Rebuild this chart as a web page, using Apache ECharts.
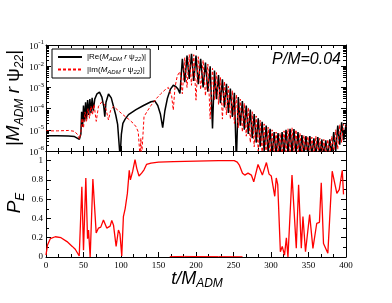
<!DOCTYPE html>
<html><head><meta charset="utf-8">
<script src="https://cdn.jsdelivr.net/npm/echarts@6/dist/echarts.min.js"></script>
<style>html,body{margin:0;padding:0;background:#fff}#c{width:392px;height:303px}</style>
</head><body><div id="c"></div>
<script>
// |Re(M r psi22)| : [t/M, value]
const reSeries = [[0,5.25e-6],[15,5.25e-6],[30,5.1e-6],[38,4.8e-6],[44.5,3.55e-6],[46.5,6.3e-6],[47.5,7.1e-5],[48.8,1.4e-5],[50,1.4e-4],[51.5,2.5e-5],[52.8,2.0e-4],[54,3.2e-5],[55.5,2.5e-4],[57,5.0e-5],[58.5,2.8e-4],[60,6.3e-5],[61.5,3.2e-4],[63,7.9e-5],[65,2.8e-4],[68,5.0e-4],[71.3,6.0e-4],[74.5,3.5e-4],[77,1.26e-4],[78.4,4.2e-5],[80,2.0e-4],[83.3,4.9e-4],[87,3.2e-4],[90,1.26e-4],[93,5.0e-5],[95.5,1.8e-5],[98.8,5e-7],[100.5,6.3e-6],[102.5,2.0e-5],[105.5,3.2e-5],[110,5.2e-5],[120,8.9e-5],[130,1.4e-4],[140,2.1e-4],[145,2.3e-4],[149,1.4e-4],[152.5,5.6e-5],[155.6,1.26e-5],[158.5,7.9e-5],[162,3.2e-4],[166,8.3e-4],[169.7,1.26e-3],[173,1.1e-3],[176,8.3e-4],[178.6,5.2e-4],
[181.8,2.24e-2],[185,1.78e-3],[188,3.16e-2],[191,2.5e-3],[194,3.8e-2],[197,2.0e-3],[200,3.16e-2],[203,1.41e-3],[206.2,2.24e-2],[209.5,1.0e-3],[212.6,1.5e-2],[215.8,6.3e-4],[218.9,1.0e-2],[222,1.17e-5],[224.6,6.3e-3],[227.3,2.8e-4],[230,3.8e-3],[232.6,1.78e-4],[235.2,2.4e-3],[237.9,1.12e-4],[240.6,1.48e-3],[243.2,6.3e-5],[245.8,8.9e-4],[248.5,4.0e-5],[251.2,5.6e-4],[253.8,3.2e-7],[256.4,3.5e-4],[259.1,1.58e-5],[261.8,2.24e-4],[264.4,1.0e-5],[267,1.41e-4],[269.7,6.3e-6],[272.4,8.9e-5],[275,4.0e-6],[277.6,5.6e-5],[280.3,2.5e-6],[283,3.5e-5],[285.6,1.58e-6],[288.2,2.4e-5],[290.9,1.0e-6],[293.6,1.58e-5],[296.2,8e-7],[298.8,1.12e-5],[301.5,6.3e-7],[304.2,7.9e-6],[306.8,6e-7],[309.4,7.1e-6],[312.1,6e-7],[314.8,7.9e-6],[317.4,7e-7],[320,1.0e-5],[322.7,8e-7],[325.4,1.12e-5],[328,8e-7],[330.6,1.07e-5],[333.3,7e-7],[336,7.9e-6],[338.6,6e-7],[341.2,5.6e-6],[343.9,6e-7],[346.6,5.0e-6],[349.2,6e-7],[351.8,5.0e-6],[354.5,6e-7],[357.2,4.0e-6],[359.8,6e-7],[362.4,4.5e-6],[365.1,6e-7],[367.8,3.5e-6],[370.4,6e-7],[373,3.2e-6],[375.7,6e-7],[378.4,3.5e-6],[381,7e-7],[383.6,7.9e-6],[386.3,1.0e-6],[389,1.58e-5],[391.6,2.0e-6],[394.2,2.24e-5],[396.9,3.2e-6],[400,1.8e-5]];

// |Im(M r psi22)| : [t/M, value]
const imSeries = [[0,8.9e-6],[15,8.9e-6],[30,9.3e-6],[38,8.5e-6],[42,6e-6],[44.7,3.6e-6],[46.5,8e-6],[48,3.5e-5],[50,1.2e-5],[52,7e-5],[54,2.5e-5],[56,1.0e-4],[58,3.5e-5],[60,1.3e-4],[62,5e-5],[64,1.6e-4],[67,2.5e-5],[70,1.3e-4],[74.5,2.1e-4],[78,1.6e-4],[80.5,8e-5],[83.3,2.9e-5],[86,8e-5],[90,1.26e-4],[95,8.9e-5],[103,5.0e-5],[110,3.2e-5],[116.5,2.0e-5],[120,1.4e-5],[123,8e-6],[125.4,5e-7],[126.5,4e-6],[127.5,5e-7],[130.7,4.2e-5],[135,7.5e-5],[140,1.41e-4],[147.6,3.1e-4],[153,5.0e-4],[158.6,7.6e-4],[163,1.0e-3],[165.3,1.07e-3],[167.5,4e-4],[169.7,8.5e-5],[172,1.0e-3],[175,3.5e-3],
[178.6,5.6e-3],[181.8,5.0e-4],[185,2.5e-2],[188,1.0e-3],[191,3.5e-2],[194,1.26e-3],[197,3.5e-2],[200,2.5e-4],[203,2.8e-2],[206.2,7.9e-4],[209.5,1.9e-2],[212.6,4.0e-4],[215.8,1.26e-2],[218.9,3.2e-5],[222,7.9e-3],[224.6,2.5e-4],[227.3,5.0e-3],[230,1.58e-4],[232.6,3.0e-3],[235.2,3.2e-5],[237.9,1.9e-3],[240.6,5.0e-5],[243.2,1.12e-3],[245.8,3.2e-5],[248.5,7.1e-4],[251.2,2.0e-5],[253.8,4.5e-4],[256.4,1.26e-5],[259.1,2.8e-4],[261.8,7.9e-6],[264.4,1.78e-4],[267,5.0e-6],[269.7,1.12e-4],[272.4,2.5e-6],[275,7.1e-5],[277.6,1.58e-6],[280.3,4.5e-5],[283,1.0e-6],[285.6,2.8e-5],[288.2,7e-7],[290.9,1.9e-5],[293.6,6e-7],[296.2,1.32e-5],[298.8,6e-7],[301.5,1.0e-5],[304.2,6e-7],[306.8,7.9e-6],[309.4,6e-7],[312.1,7.1e-6],[314.8,6e-7],[317.4,8.9e-6],[320,7e-7],[322.7,1.12e-5],[325.4,8e-7],[328,1.26e-5],[330.6,8e-7],[333.3,1.0e-5],[336,7e-7],[338.6,7.1e-6],[341.2,6e-7],[343.9,5.6e-6],[346.6,6e-7],[349.2,5.0e-6],[351.8,6e-7],[354.5,4.5e-6],[357.2,6e-7],[359.8,5.0e-6],[362.4,6e-7],[365.1,4.0e-6],[367.8,6e-7],[370.4,3.5e-6],[373,6e-7],[375.7,3.5e-6],[378.4,6e-7],[381,5.0e-6],[383.6,8e-7],[386.3,1.0e-5],[389,1.2e-6],[391.6,1.78e-5],[394.2,2.5e-6],[396.9,2.0e-5],[400,1.4e-5]];

// P_E : [t/M, value]
const peSeries = [[0,0.02],[2,0.125],[5.7,0.19],[12.4,0.21],[20,0.2],[28,0.16],[35,0.11],[39,0.08],[44.3,0.01],[47.8,0.73],[50,0.07],[53.1,0.82],[55.4,0.19],[56.7,0.28],[58.9,0.0],[62.5,0.81],[66.9,0.25],[70,0.3],[73,0.31],[76.6,0.385],[81,0.30],[85.5,0.32],[87.7,0.38],[90,0.33],[93.5,0.11],[96.6,0.28],[98.6,0.24],[101,0.01],[103.2,0.42],[105.5,0.5],[108.5,0.66],[111,0.9],[112.5,0.8],[115.6,0.89],[118.7,1.01],[121,0.92],[124,0.84],[127.5,0.87],[130.7,0.905],[134,0.96],[140,0.975],[150,0.985],[170,0.99],[200,0.995],[230,1.0],[251,1.0],[255,0.985],[258,0.95],[262,0.87],[265,0.85],[269.4,0.87],[273.8,0.85],[277,0.78],[282.7,0.96],[288.5,0.85],[293.9,0.98],[297.4,0.86],[300.4,0.84],[305,0.63],[307,0.82],[309,0.75],[312.5,0.055],[315,0.11],[318,0.02],[320.5,0.2],[322.6,0.0],[328,0.85],[333.7,0.09],[336.8,0.75],[340.4,0.09],[342.6,0.42],[346,0.055],[351.5,0.44],[355.9,0.09],[361,0.35],[364.6,0.36],[367,0.77],[370,0.14],[375.8,0.04],[381.6,0.89],[387.8,0.66],[391,0.7],[395,0.9],[396.7,0.65]];

// second, near-zero P curve
const peLowSeries = [[165,0.004],[185,0.006],[200,0.005],[230,0.004],[262,0.003]];

// minor tick positions of the log axis
const logMinorTicks = [2e-6,3e-6,4e-6,5e-6,6e-6,7e-6,8e-6,9e-6,2e-5,3e-5,4e-5,5e-5,6e-5,7e-5,8e-5,9e-5,2e-4,3e-4,4e-4,5e-4,6e-4,7e-4,8e-4,9e-4,2e-3,3e-3,4e-3,5e-3,6e-3,7e-3,8e-3,9e-3,2e-2,3e-2,4e-2,5e-2,6e-2,7e-2,8e-2,9e-2];

const SERIF = 'Liberation Serif';
const SANS = 'Liberation Sans';

const chart = echarts.init(document.getElementById('c'), null, {renderer: 'canvas'});

function xAx(grid, pos, labels) {
  return {
    type: 'value', gridIndex: grid, position: pos, min: 0, max: 400, interval: 50,
    axisLine: {show: true, onZero: false, lineStyle: {color: '#000', width: 1}},
    axisTick: {show: true, inside: true, length: 5, lineStyle: {color: '#000'}},
    minorTick: {show: true, splitNumber: 3, length: 3, lineStyle: {color: '#000'}},
    splitLine: {show: false},
    axisLabel: {show: labels, color: '#000', fontFamily: SERIF, fontSize: 9, margin: 4}
  };
}
function yLog(pos, labels) {
  return {
    type: 'log', gridIndex: 0, position: pos, min: 1e-6, max: 1e-1, logBase: 10,
    axisLine: {show: true, onZero: false, lineStyle: {color: '#000', width: 1}},
    axisTick: {show: true, inside: true, length: 5, lineStyle: {color: '#000'}},
    splitLine: {show: false},
    axisLabel: {
      show: labels, margin: 2,
      formatter: v => '{b|10}{s|' + Math.round(Math.log10(v)) + '}',
      rich: {
        b: {fontFamily: SERIF, fontSize: 9, color: '#000', lineHeight: 12, verticalAlign: 'bottom'},
        s: {fontFamily: SERIF, fontSize: 7, color: '#000', lineHeight: 8, verticalAlign: 'top'}
      }
    }
  };
}
function yLin(pos, labels) {
  return {
    type: 'value', gridIndex: 1, position: pos, min: 0, max: 1.1, interval: 0.2,
    axisLine: {show: true, onZero: false, lineStyle: {color: '#000', width: 1}},
    axisTick: {show: true, inside: true, length: 5, lineStyle: {color: '#000'}},
    minorTick: {show: true, splitNumber: 2, length: 3, lineStyle: {color: '#000'}},
    splitLine: {show: false},
    axisLabel: {
      show: labels, color: '#000', fontFamily: SERIF, fontSize: 9, margin: 3,
      formatter: v => (v > 1.05 ? '' : (Math.abs(v) < 1e-9 ? '0' : (Math.abs(v - 1) < 1e-9 ? '1' : v.toFixed(1))))
    }
  };
}

const subRich = (size, subSize, style) => ({
  m: {fontFamily: SANS, fontSize: size, fontStyle: style, fill: '#000', lineHeight: size + 4, verticalAlign: 'middle'},
  n: {fontFamily: SANS, fontSize: size, fontStyle: 'normal', fill: '#000', lineHeight: size + 4, verticalAlign: 'middle'},
  s: {fontFamily: SANS, fontSize: subSize, fontStyle: style, fill: '#000', lineHeight: subSize, verticalAlign: 'bottom'}
});

const legendRich = {
  t: {fontFamily: SANS, fontSize: 8, color: '#000', lineHeight: 11, verticalAlign: 'middle'},
  s: {fontFamily: SANS, fontSize: 6, fontStyle: 'italic', color: '#000', lineHeight: 6, verticalAlign: 'bottom'},
  i: {fontFamily: SANS, fontSize: 8, fontStyle: 'italic', color: '#000', lineHeight: 11, verticalAlign: 'middle'}
};

const option = {
  animation: false,
  backgroundColor: '#fff',
  grid: [
    {left: 46, top: 45, width: 300, height: 106},
    {left: 46, top: 151, width: 300, height: 106}
  ],
  xAxis: [xAx(0, 'bottom', false), xAx(0, 'top', false), xAx(1, 'bottom', true), xAx(1, 'top', false)],
  yAxis: [yLog('left', true), yLog('right', false), yLin('left', true), yLin('right', false)],
  legend: {
    left: 52, top: 49, orient: 'vertical', itemWidth: 24, itemHeight: 8, itemGap: 3,
    borderColor: '#000', borderWidth: 1, backgroundColor: '#fff', padding: [4, 4, 3, 5],
    data: ['Re', 'Im'],
    itemStyle: {opacity: 0},
    formatter: n => '{t|' + '|' + n + '(}{i|M}{s|ADM}{i| r }{t|ψ}{s|22}{t|)|}',
    textStyle: {rich: legendRich, fontSize: 8, fontFamily: SANS}
  },
  series: [
    {name: 'Re', type: 'line', xAxisIndex: 0, yAxisIndex: 0, data: reSeries, showSymbol: false, symbol: 'none',
      lineStyle: {color: '#000', width: 1.5}, itemStyle: {color: '#000'}, z: 3},
    {name: 'Im', type: 'line', xAxisIndex: 0, yAxisIndex: 0, data: imSeries, showSymbol: false, symbol: 'none',
      lineStyle: {color: '#ff0000', width: 1, type: [3, 2]}, itemStyle: {color: '#ff0000'}, z: 4},
    {type: 'custom', xAxisIndex: 0, yAxisIndex: 0, silent: true, z: 5,
      data: logMinorTicks.map(v => [0, v]),
      renderItem: (params, api) => {
        const p = api.coord([0, api.value(1)]);
        const cs = params.coordSys;
        const y = Math.round(p[1]) + 0.5;
        return {type: 'group', children: [
          {type: 'line', shape: {x1: cs.x, y1: y, x2: cs.x + 3, y2: y}, style: {stroke: '#000', lineWidth: 1}},
          {type: 'line', shape: {x1: cs.x + cs.width - 3, y1: y, x2: cs.x + cs.width, y2: y}, style: {stroke: '#000', lineWidth: 1}}
        ]};
      }},
    {name: 'PE', type: 'line', xAxisIndex: 2, yAxisIndex: 2, data: peSeries, showSymbol: false, symbol: 'none',
      lineStyle: {color: '#ff0000', width: 1.3}, itemStyle: {color: '#ff0000'}},
    {name: 'PElow', type: 'line', xAxisIndex: 2, yAxisIndex: 2, data: peLowSeries, showSymbol: false, symbol: 'none',
      lineStyle: {color: '#ff0000', width: 1}, itemStyle: {color: '#ff0000'}}
  ],
  graphic: [
    {type: 'text', x: 14, y: 98, rotation: Math.PI / 2, silent: true,
      style: {text: '{n||}{m|M}{s|ADM}{m| r }{n|ψ}{s|22}{n||}', rich: subRich(19, 12, 'italic'), align: 'center', verticalAlign: 'middle'}},
    {type: 'text', x: 15, y: 203, rotation: Math.PI / 2, silent: true,
      style: {text: '{m|P}{s|E}', rich: subRich(19, 12, 'italic'), align: 'center', verticalAlign: 'middle'}},
    {type: 'text', x: 197, y: 279, silent: true,
      style: {text: '{m|t/M}{s|ADM}', rich: subRich(18, 12, 'italic'), align: 'center', verticalAlign: 'middle'}},
    {type: 'text', x: 341, y: 60, silent: true,
      style: {text: 'P/M=0.04', fontFamily: SANS, fontSize: 16, fontStyle: 'italic', fill: '#000', align: 'right', verticalAlign: 'middle'}}
  ]
};
chart.setOption(option);
</script>
</body></html>
